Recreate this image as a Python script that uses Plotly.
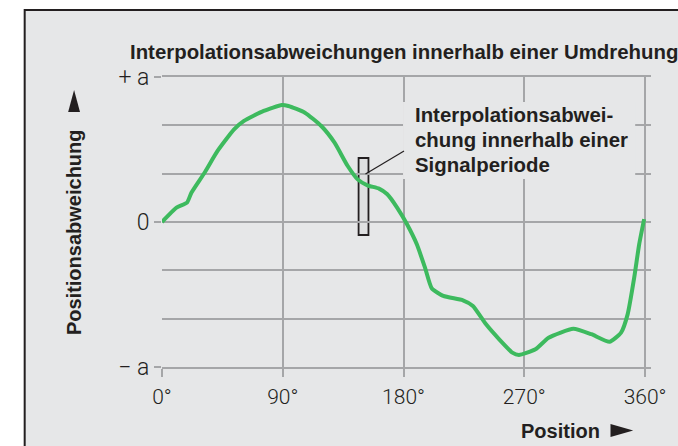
import plotly.graph_objects as go

# ---- data ----
position_deg = [0, 10.8, 18.6, 21.9, 31.7, 41.4, 53.7, 61.1, 75.8, 89.3, 94.2,
                106.5, 118.7, 128.6, 138.4, 145.8, 153.1, 161.7, 167.9, 175.2,
                182.6, 189.9, 196.0, 201.0, 209.6, 224.3, 231.7, 241.5, 251.3,
                261.1, 266.0, 278.3, 288.1, 306.5, 320.0, 333.5, 342.1, 347.0,
                351.9, 355.6, 359.3]
deviation_a = [0, 0.099, 0.133, 0.202, 0.340, 0.490, 0.639, 0.697, 0.766, 0.807,
               0.800, 0.754, 0.662, 0.547, 0.386, 0.294, 0.253, 0.230, 0.191,
               0.099, -0.016, -0.154, -0.315, -0.457, -0.510, -0.540, -0.579,
               -0.706, -0.809, -0.901, -0.917, -0.878, -0.798, -0.736, -0.774,
               -0.826, -0.763, -0.637, -0.384, -0.154, 0.02]

x_tickvals = [0, 90, 180, 270, 360]
x_ticktext = ["0°", "90°", "180°", "270°", "360°"]
y_tickvals = [-1, 0, 1]
y_ticktext = ["− a", "0", "+ a"]
y_minor_vals = [-2/3, -1/3, 1/3, 2/3]

title_text = "Interpolationsabweichungen innerhalb einer Umdrehung"
note_lines = ["Interpolationsabwei-", "chung innerhalb einer", "Signalperiode"]
ytitle_text = "Positionsabweichung"
xtitle_text = "Position"

# ---- styling ----
W, H = 678, 446
L, R, T, B = 162, 657, 77, 367
PANEL = "#e6e7e8"
GRID = "#a5a6a8"
DARK = "#231f20"
GREEN = "#3dba5e"
BOLD = "Liberation Sans, Arial, sans-serif"
LIGHT = "Roboto, Liberation Sans, sans-serif"


def px(x):
    return (x - L) / (R - L)


def py(y):
    return (B - y) / (B - T)


xmax = 360 * (R - L) / (651 - L)

fig = go.Figure()
fig.add_trace(go.Scatter(
    x=position_deg, y=deviation_a, mode="lines",
    line=dict(color=GREEN, width=4, shape="spline", smoothing=0.5),
    hoverinfo="skip", showlegend=False,
))

shapes = [
    # panel
    dict(type="rect", xref="paper", yref="paper", x0=px(23), x1=px(720),
         y0=py(10), y1=py(480), fillcolor=PANEL,
         line=dict(color=DARK, width=2), layer="below"),
    # box behind the note
    dict(type="rect", xref="paper", yref="paper", x0=px(406), x1=px(641),
         y0=py(179), y1=py(102), fillcolor=PANEL, line=dict(width=0),
         layer="above"),
    # signal-period marker
    dict(type="rect", xref="paper", yref="paper", x0=px(361), x1=px(371),
         y0=py(235), y1=py(158), fillcolor="#dfe0e1",
         line=dict(color=DARK, width=1.8), layer="between"),
    # leader line
    dict(type="line", xref="paper", yref="paper", x0=px(368), y0=py(174),
         x1=px(407), y1=py(151), line=dict(color=DARK, width=1.2),
         layer="above"),
    # arrow up
    dict(type="path", xref="paper", yref="paper",
         path=f"M {px(67)} {py(112)} L {px(79)} {py(112)} L {px(73)} {py(90)} Z",
         fillcolor=DARK, line=dict(width=0), layer="above"),
    # arrow right
    dict(type="path", xref="paper", yref="paper",
         path=f"M {px(616)} {py(424)} L {px(616)} {py(437)} L {px(639)} {py(430.5)} Z",
         fillcolor=DARK, line=dict(width=0), layer="above"),
]

annotations = [
    dict(text=f"<b>{title_text}</b>", xref="paper", yref="paper",
         x=px(128), y=py(52), xanchor="left", yanchor="middle",
         showarrow=False, font=dict(family=BOLD, size=20.4, color=DARK)),
    dict(text=f"<b>{ytitle_text}</b>", xref="paper", yref="paper",
         x=px(73), y=py(232), xanchor="center", yanchor="middle",
         textangle=-90, showarrow=False,
         font=dict(family=BOLD, size=20, color=DARK)),
    dict(text=f"<b>{xtitle_text}</b>", xref="paper", yref="paper",
         x=px(523), y=py(431), xanchor="left", yanchor="middle",
         showarrow=False, font=dict(family=BOLD, size=20, color=DARK)),
]
for i, line in enumerate(note_lines):
    annotations.append(dict(
        text=f"<b>{line}</b>", xref="paper", yref="paper",
        x=px(416), y=py(115 + 25 * i), xanchor="left", yanchor="middle",
        align="left", showarrow=False,
        font=dict(family=BOLD, size=20.4, color=DARK)))

fig.update_layout(
    width=W, height=H, autosize=False,
    margin=dict(l=L, r=W - R, t=T, b=H - B, pad=0),
    paper_bgcolor="white", plot_bgcolor="rgba(0,0,0,0)",
    shapes=shapes, annotations=annotations,
    xaxis=dict(range=[0, xmax], tickmode="array", tickvals=x_tickvals,
               ticktext=x_ticktext, ticks="outside", ticklen=8,
               tickwidth=1.5, tickcolor=GRID, showgrid=True, gridcolor=GRID,
               gridwidth=1.5, zeroline=False, showline=True, mirror=True,
               linecolor=GRID, linewidth=1.5, ticklabelstandoff=2,
               tickfont=dict(family=LIGHT, size=21, color=DARK, weight=300),
               fixedrange=True),
    yaxis=dict(range=[-1, 1], tickmode="array", tickvals=y_tickvals,
               ticktext=y_ticktext, ticks="outside", ticklen=7,
               tickwidth=1.5, tickcolor=GRID, showgrid=True, gridcolor=GRID,
               gridwidth=1.5, zeroline=False, showline=False,
               tickfont=dict(family=LIGHT, size=23, color=DARK, weight=300),
               fixedrange=True,
               minor=dict(tickmode="array", tickvals=y_minor_vals,
                          showgrid=True, gridcolor=GRID, gridwidth=1.5,
                          ticks="")),
)

fig.write_html("out.html", config={"displayModeBar": False},
               post_script="document.body.style.margin='0';")
